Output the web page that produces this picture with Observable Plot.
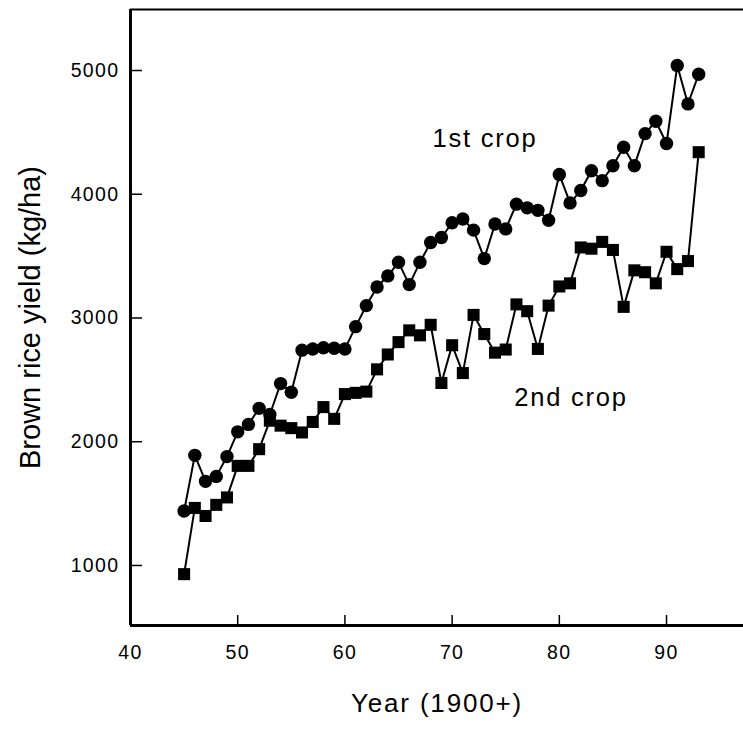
<!DOCTYPE html>
<html>
<head>
<meta charset="utf-8">
<script src="https://cdn.jsdelivr.net/npm/d3@7"></script>
<script src="https://cdn.jsdelivr.net/npm/@observablehq/plot@0.6"></script>
<style>
  html, body { margin: 0; padding: 0; background: #fff; }
  #chart svg { display: block; }
</style>
</head>
<body>
<div id="chart"></div>
<script>
// ---- data ----
const years = [45,46,47,48,49,50,51,52,53,54,55,56,57,58,59,60,61,62,63,64,65,66,67,68,69,
               70,71,72,73,74,75,76,77,78,79,80,81,82,83,84,85,86,87,88,89,90,91,92,93];
const firstCrop = [1440,1890,1680,1720,1880,2080,2140,2270,2220,2470,2400,2740,2750,2760,2755,
                   2750,2930,3100,3250,3340,3450,3270,3450,3610,3650,3770,3800,3710,3480,3760,
                   3720,3920,3890,3870,3790,4160,3930,4030,4190,4110,4230,4380,4230,4490,4590,
                   4410,5040,4730,4970];
const secondCrop = [930,1465,1400,1490,1550,1805,1805,1940,2170,2130,2110,2075,2160,2280,2185,
                    2385,2395,2405,2585,2705,2805,2900,2860,2945,2475,2780,2555,3025,2870,2720,
                    2745,3110,3055,2750,3100,3255,3280,3570,3560,3615,3550,3090,3385,3370,3280,
                    3535,3395,3460,4340];
const xTicks = [40,50,60,70,80,90];
const yTicks = [1000,2000,3000,4000,5000];
const seriesLabels = ["1st crop", "2nd crop"];
const labelYears = [73.06, 81.09];
const labelValues = [4446, 2354];
const xTitle = "Year (1900+)";
const yTitle = "Brown rice yield (kg/ha)";

// ---- build tables ----
const d1 = years.map((y, i) => ({year: y, value: firstCrop[i]}));
const d2 = years.map((y, i) => ({year: y, value: secondCrop[i]}));
const labels = seriesLabels.map((t, i) => ({text: t, year: labelYears[i], value: labelValues[i]}));

const xDomain = [40, 97.18];
const yDomain = [515, 5493];
const font = "'Liberation Sans', Arial, Helvetica, sans-serif";

const chart = Plot.plot({
  width: 743,
  height: 730,
  marginLeft: 130,
  marginRight: 0,
  marginTop: 9,
  marginBottom: 105,
  x: {domain: xDomain},
  y: {domain: yDomain},
  style: {fontFamily: font, background: "white", color: "black"},
  marks: [
    // frame lines
    Plot.ruleY([yDomain[1]], {stroke: "black", strokeWidth: 2}),
    Plot.ruleX([xDomain[0]], {stroke: "black", strokeWidth: 3}),
    Plot.ruleY([yDomain[0]], {stroke: "black", strokeWidth: 3}),
    // inward ticks
    Plot.tickY(yTicks, {y: d => d, insetRight: 613 - 12, stroke: "black", strokeWidth: 1.5}),
    Plot.tickX(xTicks, {x: d => d, insetTop: 616 - 10, stroke: "black", strokeWidth: 1.5}),
    // tick labels
    Plot.axisY({ticks: yTicks, tickSize: 0, tickPadding: 11, fontSize: 19.5, label: null,
                tickFormat: d => String(d), fill: "black"}),
    Plot.axisX({ticks: xTicks, tickSize: 0, tickPadding: 20, fontSize: 19.5, label: null,
                tickFormat: d => String(d), fill: "black"}),
    // axis titles
    Plot.text([xTitle], {text: d => d, frameAnchor: "bottom", dy: 86, fontSize: 26, fill: "black"}),
    Plot.text([yTitle], {text: d => d, frameAnchor: "left", textAnchor: "middle", dx: -100,
                         rotate: -90, fontSize: 29, fill: "black"}),
    // series
    Plot.line(d1, {x: "year", y: "value", stroke: "black", strokeWidth: 2}),
    Plot.line(d2, {x: "year", y: "value", stroke: "black", strokeWidth: 2}),
    Plot.dot(d1, {x: "year", y: "value", r: 6.7, fill: "black", symbol: "circle"}),
    Plot.dot(d2, {x: "year", y: "value", r: 6.8, fill: "black", symbol: "square"}),
    // series labels
    Plot.text(labels, {x: "year", y: "value", text: "text", fontSize: 25.5, fill: "black"})
  ]
});

document.getElementById("chart").appendChild(chart);

// the reference's lettering is horizontally wide: add a little tracking (not to the rotated title)
d3.select(chart).selectAll("text").each(function() {
  if (/rotate/.test(this.getAttribute("transform") || "")) return;
  if (this.textContent === yTitle) return;
  const fs = parseFloat(getComputedStyle(this).fontSize) || 12;
  this.style.letterSpacing = (fs * 0.07).toFixed(2) + "px";
});
</script>
</body>
</html>
